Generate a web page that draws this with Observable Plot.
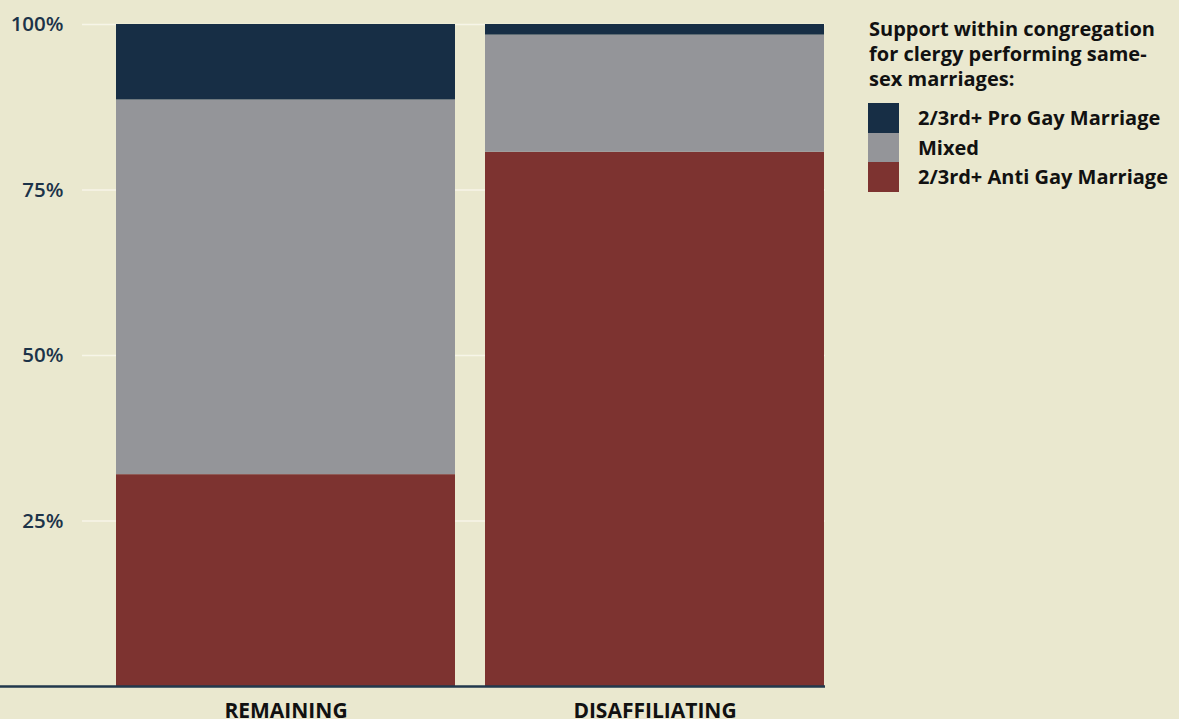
<!DOCTYPE html>
<html>
<head>
<meta charset="utf-8">
<script src="https://cdn.jsdelivr.net/npm/d3@7"></script>
<script src="https://cdn.jsdelivr.net/npm/@observablehq/plot@0.6"></script>
<style>
  html, body { margin: 0; padding: 0; background: #eae8cf; overflow: hidden; }
  #wrap { position: relative; width: 1179px; height: 719px; font-family: "Open Sans", sans-serif; }
  #chart { position: absolute; left: 0; top: 0; }
  #legend { position: absolute; left: 869px; top: 16px; color: #111; font-weight: 700; font-size: 20px; }
  #legend .title { line-height: 25px; white-space: nowrap; }
  #legend .items { margin-top: 12px; }
  #legend .item { display: flex; align-items: center; height: 29.5px; white-space: nowrap; }
  #legend .sw { width: 31px; height: 29.5px; margin-left: -1px; margin-right: 19px; flex: none; }
</style>
</head>
<body>
<div id="wrap">
  <div id="chart"></div>
  <div id="legend"></div>
</div>
<script>
const groups = ["REMAINING", "DISAFFILIATING"];
const categories = ["2/3rd+ Anti Gay Marriage", "Mixed", "2/3rd+ Pro Gay Marriage"];
const antiValues = [32.0, 80.7];
const mixedValues = [56.6, 17.7];
const proValues = [11.4, 1.6];
const yTicks = [25, 50, 75, 100];
const colors = ["#7d3330", "#949599", "#172e45"];
const legendTitleLines = ["Support within congregation", "for clergy performing same-", "sex marriages:"];
const legendOrder = ["2/3rd+ Pro Gay Marriage", "Mixed", "2/3rd+ Anti Gay Marriage"];

const series = [antiValues, mixedValues, proValues];
const data = [];
groups.forEach((g, gi) => {
  categories.forEach((c, ci) => {
    data.push({group: g, category: c, value: series[ci][gi]});
  });
});

const plot = Plot.plot({
  width: 850,
  height: 719,
  marginLeft: 82,
  marginRight: 25,
  marginTop: 24,
  marginBottom: 33,
  style: {background: "transparent", fontFamily: "Open Sans, sans-serif"},
  x: {domain: groups, range: [115, 825], paddingInner: 0.081, paddingOuter: 0, label: null},
  y: {domain: [0, 100], label: null},
  color: {domain: categories, range: colors},
  marks: [
    Plot.gridY(yTicks, {stroke: "#f7f5e8", strokeOpacity: 1, strokeWidth: 1.5}),
    Plot.barY(data, {x: "group", y: "value", fill: "category", order: categories}),
    Plot.ruleY([0], {stroke: "#22394d", strokeWidth: 2.5, insetLeft: -82}),
    Plot.axisY(yTicks, {tickSize: 0, tickPadding: 19, tickFormat: d => d + "%", fill: "#1c3349", fontSize: 20.5, fontWeight: 600, label: null}),
    Plot.axisX({tickSize: 0, tickPadding: 17, fill: "#111", fontSize: 21, fontWeight: 700, label: null})
  ]
});
document.getElementById("chart").appendChild(plot);

const legend = document.getElementById("legend");
const t = document.createElement("div");
t.className = "title";
legendTitleLines.forEach(line => {
  const d = document.createElement("div");
  d.textContent = line;
  t.appendChild(d);
});
legend.appendChild(t);
const items = document.createElement("div");
items.className = "items";
legendOrder.forEach(c => {
  const it = document.createElement("div");
  it.className = "item";
  const sw = document.createElement("div");
  sw.className = "sw";
  sw.style.background = colors[categories.indexOf(c)];
  const lab = document.createElement("span");
  lab.textContent = c;
  it.appendChild(sw);
  it.appendChild(lab);
  items.appendChild(it);
});
legend.appendChild(items);
</script>
</body>
</html>
